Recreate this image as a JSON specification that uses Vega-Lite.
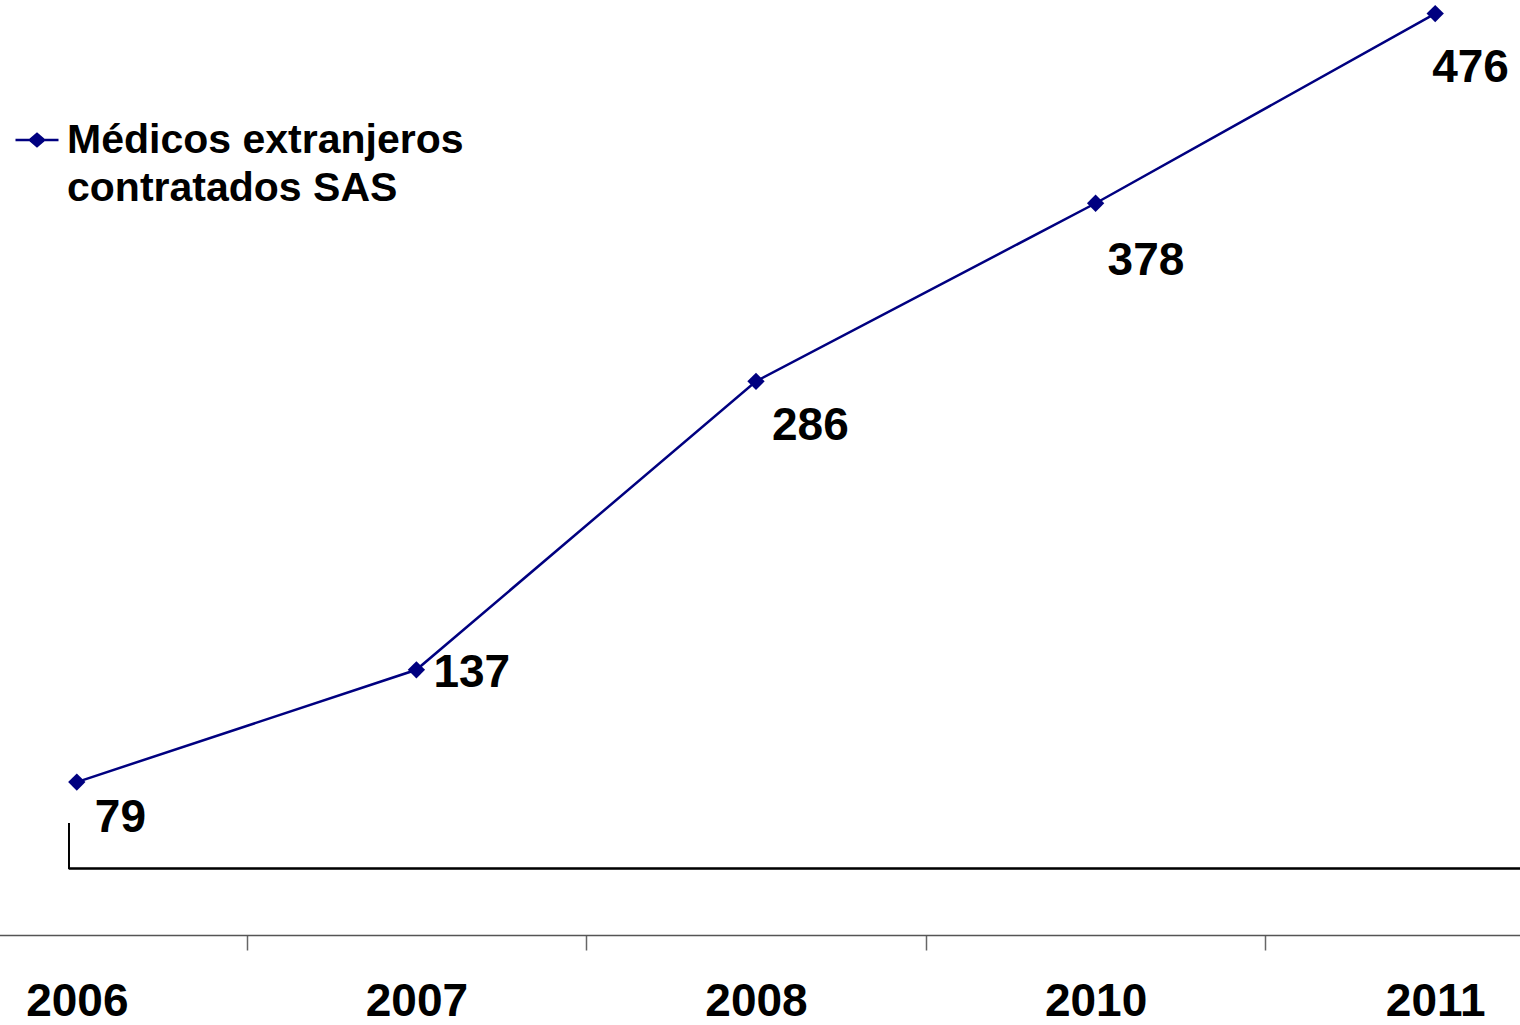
{
  "$schema": "https://vega.github.io/schema/vega-lite/v6.json",
  "autosize": "none",
  "width": 1520,
  "height": 935,
  "padding": {"left": 0, "top": 0, "right": 0, "bottom": 90},
  "background": "white",
  "config": {
    "view": {"stroke": null},
    "font": "Liberation Sans"
  },
  "data": {
    "values": [
      {"year": "2006", "value": 79, "serie": "Médicos extranjeros contratados SAS"},
      {"year": "2007", "value": 137, "serie": "Médicos extranjeros contratados SAS"},
      {"year": "2008", "value": 286, "serie": "Médicos extranjeros contratados SAS"},
      {"year": "2010", "value": 378, "serie": "Médicos extranjeros contratados SAS"},
      {"year": "2011", "value": 476, "serie": "Médicos extranjeros contratados SAS"}
    ]
  },
  "encoding": {
    "x": {
      "field": "year",
      "type": "ordinal",
      "scale": {"type": "band", "range": [-93, 1605], "paddingInner": 0, "paddingOuter": 0},
      "axis": {
        "title": null,
        "labelAngle": 0,
        "labelFont": "Liberation Sans",
        "labelFontSize": 46,
        "labelFontWeight": "bold",
        "labelColor": "black",
        "labelPadding": 29,
        "tickBand": "extent",
        "tickSize": 15,
        "tickWidth": 1.5,
        "tickColor": "#666666",
        "domainColor": "#555555",
        "domainWidth": 1.5,
        "grid": false
      }
    },
    "y": {
      "field": "value",
      "type": "quantitative",
      "scale": {"domain": [0, 483], "nice": false, "zero": true},
      "axis": null
    }
  },
  "layer": [
    {
      "mark": {"type": "rule", "color": "black", "strokeWidth": 1.5, "xOffset": -8},
      "encoding": {
        "x": {"datum": "2006"},
        "y": {"datum": 34.4},
        "y2": {"datum": 57.9}
      }
    },
    {
      "mark": {"type": "rule", "color": "black", "strokeWidth": 1.5, "xOffset": -8, "x2Offset": 200},
      "encoding": {
        "x": {"datum": "2006"},
        "x2": {"datum": "2011"},
        "y": {"datum": 34.4}
      }
    },
    {
      "mark": {"type": "line", "strokeWidth": 2.5},
      "encoding": {
        "color": {
          "field": "serie",
          "type": "nominal",
          "scale": {"range": ["#000080"]},
          "legend": {
            "orient": "none",
            "legendX": 14,
            "legendY": 117,
            "title": null,
            "padding": 0,
            "symbolType": "M-1,0H1M-0.33,0L0,-0.28L0.33,0L0,0.28Z",
            "symbolSize": 1849,
            "symbolStrokeWidth": 2.5,
            "symbolStrokeColor": "#000080",
            "symbolFillColor": "#000080",
            "labelFont": "Liberation Sans",
            "labelFontSize": 41,
            "labelFontWeight": "bold",
            "labelColor": "black",
            "labelLimit": 2000,
            "labelOffset": 7,
            "labelExpr": "['Médicos extranjeros', 'contratados SAS']",
            "encode": {
              "labels": {
                "update": {
                  "baseline": {"value": "alphabetic"},
                  "dy": {"value": 13},
                  "lineHeight": {"value": 48}
                }
              }
            }
          }
        }
      }
    },
    {
      "mark": {"type": "point", "shape": "diamond", "filled": true, "size": 300, "opacity": 1},
      "encoding": {
        "color": {"field": "serie", "type": "nominal"}
      }
    },
    {
      "transform": [{"filter": "datum.year == '2006'"}],
      "mark": {"type": "text", "align": "left", "baseline": "alphabetic", "dx": 18, "dy": 50, "fontSize": 46, "fontWeight": "bold", "color": "black"},
      "encoding": {"text": {"field": "value", "type": "quantitative"}}
    },
    {
      "transform": [{"filter": "datum.year == '2007'"}],
      "mark": {"type": "text", "align": "left", "baseline": "alphabetic", "dx": 17, "dy": 17, "fontSize": 46, "fontWeight": "bold", "color": "black"},
      "encoding": {"text": {"field": "value", "type": "quantitative"}}
    },
    {
      "transform": [{"filter": "datum.year == '2008'"}],
      "mark": {"type": "text", "align": "left", "baseline": "alphabetic", "dx": 16, "dy": 59, "fontSize": 46, "fontWeight": "bold", "color": "black"},
      "encoding": {"text": {"field": "value", "type": "quantitative"}}
    },
    {
      "transform": [{"filter": "datum.year == '2010'"}],
      "mark": {"type": "text", "align": "left", "baseline": "alphabetic", "dx": 12, "dy": 72, "fontSize": 46, "fontWeight": "bold", "color": "black"},
      "encoding": {"text": {"field": "value", "type": "quantitative"}}
    },
    {
      "transform": [{"filter": "datum.year == '2011'"}],
      "mark": {"type": "text", "align": "left", "baseline": "alphabetic", "dx": -3, "dy": 68, "fontSize": 46, "fontWeight": "bold", "color": "black"},
      "encoding": {"text": {"field": "value", "type": "quantitative"}}
    }
  ]
}
